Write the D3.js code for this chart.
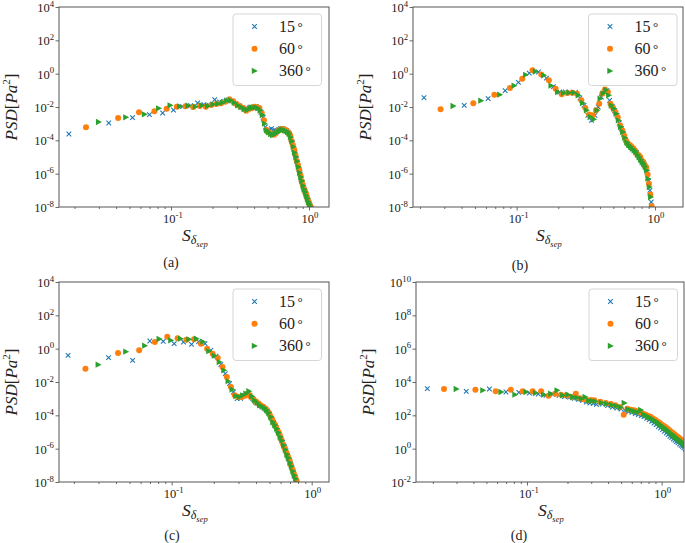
<!DOCTYPE html>
<html><head><meta charset="utf-8">
<script src="https://cdn.jsdelivr.net/npm/d3@7/dist/d3.min.js"></script>
<style>
body{margin:0;background:#fff}
svg{display:block}
text{font-family:"Liberation Serif","Times New Roman","DejaVu Serif",serif;fill:#222}
</style>
</head><body>
<svg id="chart" width="685" height="543" font-family="Liberation Serif, Times New Roman, DejaVu Serif, serif"></svg>
<script>
// ---- series names ----
const seriesNames = ["15", "60", "360"];
const seriesColors = ["#1f77b4", "#ff7f0e", "#2ca02c"];

// ---- Strouhal numbers (S_delta_sep) for panels a and c ----
const freq15 = [0.0182,0.0354,0.0526,0.0698,0.087,0.1042,0.1214,0.1386,0.1558,0.173,0.1902,0.2074,0.2246,0.2418,0.259,0.2762,0.2934,0.3106,0.3278,0.345,0.3622,0.3794,0.3966,0.4138,0.431,0.4482,0.4654,0.4826,0.4998,0.517,0.5342,0.5514,0.5686,0.5858,0.603,0.6202,0.6374,0.6546,0.6718,0.689,0.7062,0.7234,0.7406,0.7578,0.775,0.7922,0.8094,0.8266,0.8438,0.861,0.8782,0.8954,0.9126,0.9298,0.947,0.9642,0.9814,0.9986,1.0158,1.033,1.0502,1.0674,1.0846];
const freq60 = [0.0242,0.0414,0.0586,0.0758,0.093,0.1102,0.1274,0.1446,0.1618,0.179,0.1962,0.2134,0.2306,0.2478,0.265,0.2822,0.2994,0.3166,0.3338,0.351,0.3682,0.3854,0.4026,0.4198,0.437,0.4542,0.4714,0.4886,0.5058,0.523,0.5402,0.5574,0.5746,0.5918,0.609,0.6262,0.6434,0.6606,0.6778,0.695,0.7122,0.7294,0.7466,0.7638,0.781,0.7982,0.8154,0.8326,0.8498,0.867,0.8842,0.9014,0.9186,0.9358,0.953,0.9702,0.9874,1.0046,1.0218,1.039,1.0562,1.0734];
const freq360 = [0.0299,0.0471,0.0643,0.0815,0.0987,0.1159,0.1331,0.1503,0.1675,0.1847,0.2019,0.2191,0.2363,0.2535,0.2707,0.2879,0.3051,0.3223,0.3395,0.3567,0.3739,0.3911,0.4083,0.4255,0.4427,0.4599,0.4771,0.4943,0.5115,0.5287,0.5459,0.5631,0.5803,0.5975,0.6147,0.6319,0.6491,0.6663,0.6835,0.7007,0.7179,0.7351,0.7523,0.7695,0.7867,0.8039,0.8211,0.8383,0.8555,0.8727,0.8899,0.9071,0.9243,0.9415,0.9587,0.9759,0.9931,1.0103,1.0275,1.0447,1.0619,1.0791];
// ---- Strouhal numbers for panel b ----
const freqB15 = [0.0214,0.0418,0.0622,0.0826,0.103,0.1234,0.1438,0.1642,0.1846,0.205,0.2254,0.2458,0.2662,0.2866,0.307,0.3274,0.3478,0.3682,0.3886,0.409,0.4294,0.4498,0.4702,0.4906,0.511,0.5314,0.5518,0.5722,0.5926,0.613,0.6334,0.6538,0.6742,0.6946,0.715,0.7354,0.7558,0.7762,0.7966,0.817,0.8374,0.8578,0.8782,0.8986,0.919,0.9394,0.9598,0.9802];
const freqB60 = [0.0282,0.0486,0.069,0.0894,0.1098,0.1302,0.1506,0.171,0.1914,0.2118,0.2322,0.2526,0.273,0.2934,0.3138,0.3342,0.3546,0.375,0.3954,0.4158,0.4362,0.4566,0.477,0.4974,0.5178,0.5382,0.5586,0.579,0.5994,0.6198,0.6402,0.6606,0.681,0.7014,0.7218,0.7422,0.7626,0.783,0.8034,0.8238,0.8442,0.8646,0.885,0.9054,0.9258,0.9462,0.9666,0.987];
const freqB360 = [0.0348,0.0552,0.0756,0.096,0.1164,0.1368,0.1572,0.1776,0.198,0.2184,0.2388,0.2592,0.2796,0.3,0.3204,0.3408,0.3612,0.3816,0.402,0.4224,0.4428,0.4632,0.4836,0.504,0.5244,0.5448,0.5652,0.5856,0.606,0.6264,0.6468,0.6672,0.6876,0.708,0.7284,0.7488,0.7692,0.7896,0.81,0.8304,0.8508,0.8712,0.8916,0.912,0.9324,0.9528,0.9732];
// ---- Strouhal numbers for panel d ----
const freqD15 = [0.0182,0.0354,0.0526,0.0698,0.087,0.1042,0.1214,0.1386,0.1558,0.173,0.1902,0.2074,0.2246,0.2418,0.259,0.2762,0.2934,0.3106,0.3278,0.3622,0.3966,0.431,0.4654,0.4998,0.5342,0.5686,0.603,0.6374,0.6718,0.7062,0.7406,0.775,0.8094,0.8438,0.8782,0.9126,0.947,0.9814,1.0158,1.0502,1.0846,1.119,1.1534,1.1878,1.2222,1.2566,1.291,1.3254,1.3598,1.3942,1.4286,1.463,1.4974];
const freqD60 = [0.0242,0.0414,0.0586,0.0758,0.093,0.1102,0.1274,0.1446,0.1618,0.179,0.1962,0.2134,0.2306,0.2478,0.265,0.2822,0.2994,0.3166,0.351,0.3854,0.4198,0.4542,0.4886,0.523,0.5574,0.5918,0.6262,0.6606,0.695,0.7294,0.7638,0.7982,0.8326,0.867,0.9014,0.9358,0.9702,1.0046,1.039,1.0734,1.1078,1.1422,1.1766,1.211,1.2454,1.2798,1.3142,1.3486,1.383,1.4174,1.4518,1.4862];
const freqD360 = [0.0299,0.0471,0.0643,0.0815,0.0987,0.1159,0.1331,0.1503,0.1675,0.1847,0.2019,0.2191,0.2363,0.2535,0.2707,0.2879,0.3051,0.3223,0.3567,0.3911,0.4255,0.4599,0.4943,0.5287,0.5631,0.5975,0.6319,0.6663,0.7007,0.7351,0.7695,0.8039,0.8383,0.8727,0.9071,0.9415,0.9759,1.0103,1.0447,1.0791,1.1135,1.1479,1.1823,1.2167,1.2511,1.2855,1.3199,1.3543,1.3887,1.4231,1.4575,1.4919];

// ---- PSD values, stored as log10(PSD [Pa^2]) ----
const psdA15 = [-3.62,-2.96,-2.64,-2.46,-2.36,-2.18,-1.98,-1.92,-1.76,-1.86,-1.9,-1.56,-1.7,-1.66,-1.58,-1.64,-1.78,-1.92,-2.02,
  -2.15,-2.12,-2.0,-2.0,-1.96,-2.08,-2.3,-2.62,-3.2,-3.44,-3.36,-3.3,-3.42,-3.4,-3.44,-3.36,-3.3,-3.28,-3.32,-3.38,
  -3.42,-3.52,-3.62,-3.92,-4.16,-4.52,-4.76,-5.12,-5.36,-5.74,-5.96,-6.32,-6.52,-6.84,-6.98,-7.22,-7.38,-7.58,-7.74,-7.92,
  -8.04,-8.22,-8.3,-8.46];
const psdA60 = [-3.22,-2.66,-2.32,-2.26,-2.1,-1.98,-1.96,-2.0,-1.94,-1.98,-1.88,-1.82,-1.78,-1.68,-1.54,-1.66,-1.84,-1.96,
  -2.06,-2.22,-2.1,-2.08,-1.98,-2.02,-2.06,-2.36,-2.8,-3.36,-3.5,-3.56,-3.64,-3.66,-3.58,-3.46,-3.4,-3.34,-3.32,-3.36,
  -3.4,-3.46,-3.56,-3.7,-4.02,-4.28,-4.56,-4.9,-5.24,-5.5,-5.76,-6.1,-6.44,-6.66,-6.9,-7.05,-7.22,-7.45,-7.64,-7.8,
  -7.95,-8.08,-8.22,-8.35];
const psdA360 = [-2.9,-2.62,-2.44,-2.08,-1.9,-1.96,-1.92,-1.98,-1.9,-1.94,-1.84,-1.8,-1.74,-1.62,-1.6,-1.74,-1.9,-2.0,
  -2.12,-2.18,-2.06,-2.04,-2.02,-2.06,-2.2,-2.48,-3.0,-3.4,-3.52,-3.62,-3.68,-3.64,-3.56,-3.5,-3.42,-3.38,-3.36,-3.4,
  -3.44,-3.5,-3.6,-3.8,-4.06,-4.38,-4.74,-5.0,-5.26,-5.6,-5.94,-6.2,-6.44,-6.72,-6.94,-7.1,-7.32,-7.5,-7.7,-7.85,
  -8.0,-8.12,-8.26,-8.4];

const psdB15 = [-1.44,-1.9,-1.5,-1.02,-0.52,0.03,0.1,-0.27,-0.78,-1.1,-1.1,-1.16,-1.12,-1.46,-1.9,-2.5,
  -2.8,-2.5,-2.0,-1.4,-1.05,-1.02,-1.6,-1.96,-2.22,-2.5,-2.96,-3.3,-3.62,-3.98,-4.2,-4.3,-4.44,-4.5,-4.62,-4.72,
  -4.9,-5.05,-5.22,-5.35,-5.48,-5.65,-5.9,-6.45,-7.0,-7.7,-8.4,-8.9];
const psdB60 = [-2.14,-1.78,-1.26,-0.86,-0.3,0.2,-0.05,-0.4,-0.9,-1.24,-1.16,-1.14,-1.2,-1.6,-2.06,-2.45,
  -2.5,-2.2,-1.8,-1.2,-0.95,-1.1,-1.8,-2.05,-2.3,-2.62,-3.1,-3.4,-3.72,-4.04,-4.22,-4.3,-4.4,-4.52,-4.66,-4.82,
  -4.9,-5.0,-5.22,-5.3,-5.5,-5.62,-6.05,-6.6,-7.25,-7.95,-8.6,-9.0];
const psdB360 = [-1.94,-1.62,-1.26,-0.72,-0.07,0.13,-0.1,-0.72,-1.1,-1.16,-1.14,-1.14,-1.3,-1.76,-2.2,
  -2.6,-2.74,-2.2,-1.5,-1.18,-0.98,-1.3,-1.9,-2.1,-2.4,-2.8,-3.2,-3.5,-3.85,-4.12,-4.28,-4.38,-4.5,-4.6,-4.7,
  -4.86,-5.0,-5.16,-5.3,-5.42,-5.58,-5.8,-6.3,-6.8,-7.4,-8.1,-8.6];

const psdC15 = [-0.4,-0.54,-0.7,0.46,0.44,0.3,0.4,0.26,0.42,0.3,-0.1,-0.45,-0.95,-1.5,-2.1,-2.6,-3.0,-2.98,-2.8,
  -2.7,-2.8,-3.0,-3.2,-3.3,-3.4,-3.5,-3.62,-3.74,-3.92,-4.18,-4.42,-4.64,-4.9,-5.1,-5.38,-5.62,-5.88,-6.12,-6.4,
  -6.64,-6.9,-7.16,-7.4,-7.68,-8.0,-8.2,-8.5];
const psdC60 = [-1.2,-0.26,-0.1,0.4,0.72,0.62,0.54,0.56,0.3,0.0,-0.3,-0.56,-1.1,-1.7,-2.3,-2.8,-2.9,-2.9,
  -2.82,-2.7,-2.9,-3.05,-3.18,-3.3,-3.42,-3.5,-3.62,-3.8,-4.02,-4.25,-4.5,-4.7,-4.96,-5.2,-5.46,-5.75,-5.98,-6.25,
  -6.48,-6.7,-6.98,-7.25,-7.5,-7.7,-7.92,-8.2];
const psdC360 = [-0.96,-0.18,0.18,0.58,0.5,0.6,0.56,0.6,0.42,-0.15,-0.42,-0.8,-1.3,-1.95,-2.45,-2.85,-2.9,-2.8,
  -2.7,-2.55,-2.86,-3.1,-3.24,-3.4,-3.46,-3.55,-3.68,-3.85,-4.1,-4.4,-4.58,-4.8,-5.04,-5.3,-5.52,-5.8,-6.06,-6.35,
  -6.56,-6.85,-7.06,-7.35,-7.6,-7.8,-8.06,-8.3];

const psdD15 = [3.6,3.44,3.58,3.4,3.38,3.34,3.28,3.2,3.26,3.2,3.12,3.1,3.02,2.96,2.9,2.8,2.74,2.72,2.66,
  2.68,2.58,2.5,2.44,2.38,2.3,2.22,2.18,2.1,2.04,1.98,1.92,1.82,1.74,1.64,1.54,1.44,1.32,1.24,1.14,1.04,
  0.94,0.84,0.74,0.66,0.58,0.5,0.42,0.36,0.28,0.2,0.14,0.06,-0.02];
const psdD60 = [3.58,3.54,3.44,3.54,3.44,3.44,3.44,3.18,3.3,3.24,3.2,3.12,3.3,3.02,2.96,2.9,2.92,2.9,2.82,2.74,2.68,2.6,2.5,2.04,2.4,2.34,2.3,2.24,2.18,2.1,2.04,1.96,1.9,1.8,1.72,1.62,1.54,1.44,1.36,1.28,1.2,1.1,1.02,0.94,0.86,0.78,0.72,0.64,0.56,0.5,0.42,0.36];
const psdD360 = [3.58,3.5,3.4,3.24,3.4,3.34,3.24,3.3,3.5,3.2,3.24,3.1,3.06,3.0,3.1,2.88,2.86,2.84,2.76,2.7,2.62,2.56,2.48,2.74,2.36,2.3,2.24,2.18,2.32,2.06,1.98,1.9,1.82,1.72,1.64,1.54,1.44,1.34,1.26,1.16,1.08,0.98,0.9,0.82,0.74,0.66,0.58,0.52,0.44,0.38,0.3,0.22];

// ---- axis ticks ----
const yTickExpABC = [-8,-6,-4,-2,0,2,4];
const yTickExpD = [-2,0,2,4,6,8,10];
const xTickExp = [-1, 0];

const panels = [
  {cap:"(a)", L:59, R:329, T:7, B:207, xDom:[0.01543,1.396], yExp:yTickExpABC,
   f:[freq15,freq60,freq360], p:[psdA15,psdA60,psdA360], ylabX:12, capX:171, capY:267, legX:233},
  {cap:"(b)", L:413, R:683, T:7, B:207, xDom:[0.01782,1.594], yExp:yTickExpABC,
   f:[freqB15,freqB60,freqB360], p:[psdB15,psdB60,psdB360], ylabX:365.5, capX:520, capY:270, legX:588.5},
  {cap:"(c)", L:59, R:329, T:282, B:482, xDom:[0.01567,1.33], yExp:yTickExpABC,
   f:[freq15,freq60,freq360], p:[psdC15,psdC60,psdC360], ylabX:12, capX:172, capY:540, legX:233},
  {cap:"(d)", L:416, R:684, T:282, B:482, xDom:[0.0150,1.466], yExp:yTickExpD,
   f:[freqD15,freqD60,freqD360], p:[psdD15,psdD60,psdD360], ylabX:368.5, capX:519, capY:540, legX:589}
];

const svg = d3.select("#chart");
const defs = svg.append("defs");

function drawMarker(sel, k){
  if(k===0){
    sel.append("path").attr("d","M-2.3,-2.3L2.3,2.3M-2.3,2.3L2.3,-2.3")
      .attr("stroke",seriesColors[0]).attr("stroke-width",1.1).attr("fill","none");
  } else if(k===1){
    sel.append("circle").attr("r",3.0).attr("fill",seriesColors[1]);
  } else {
    sel.append("path").attr("d","M-2.7,-3.2L3.3,0L-2.7,3.2Z").attr("fill",seriesColors[2]);
  }
}

function powLabel(sel, exp, size){
  sel.append("tspan").text("10").attr("font-size",size);
  sel.append("tspan").text(exp<0 ? "-"+(-exp) : String(exp))
    .attr("font-size",size*0.7).attr("dy",-size*0.42);
}

panels.forEach((P,pi)=>{
  const g = svg.append("g");
  const x = d3.scaleLog().domain(P.xDom).range([P.L,P.R]);
  const yLo = P.yExp[0], yHi = P.yExp[P.yExp.length-1];
  const y = d3.scaleLog().domain([Math.pow(10,yLo),Math.pow(10,yHi)]).range([P.B,P.T]);

  // minor x ticks
  const minor = [];
  [-2,-1,0].forEach(e=>{ for(let m=2;m<=9;m++){ const v=m*Math.pow(10,e); if(v>P.xDom[0]&&v<P.xDom[1]) minor.push(v);} });
  const majorX = xTickExp.map(e=>Math.pow(10,e)).filter(v=>v>P.xDom[0]&&v<P.xDom[1]);
  const gxMinor = g.append("g").attr("transform",`translate(0,${P.B})`)
    .call(d3.axisBottom(x).tickValues(minor).tickSize(2).tickFormat(""));
  const gxMajor = g.append("g").attr("transform",`translate(0,${P.B})`)
    .call(d3.axisBottom(x).tickValues(majorX).tickSize(3.5).tickFormat(""));
  const yVals = P.yExp.map(e=>Math.pow(10,e));
  const gy = g.append("g").attr("transform",`translate(${P.L},0)`)
    .call(d3.axisLeft(y).tickValues(yVals).tickSize(3.5).tickFormat(""));
  [gxMinor,gxMajor,gy].forEach(a=>{ a.select(".domain").remove(); a.selectAll("line").attr("stroke","#444").attr("stroke-width",0.8); });

  // tick labels
  majorX.forEach(v=>{
    const e = Math.round(Math.log10(v));
    const t = g.append("text").attr("x",x(v)+(e<0?2:1)).attr("y",P.B+16).attr("text-anchor","middle");
    powLabel(t,e,12.5);
  });
  P.yExp.forEach(e=>{
    const t = g.append("text").attr("x",P.L-5).attr("y",y(Math.pow(10,e))+5).attr("text-anchor","end");
    powLabel(t,e,12.5);
  });

  // data
  const cid = "clip"+pi;
  defs.append("clipPath").attr("id",cid).append("rect")
    .attr("x",P.L).attr("y",P.T).attr("width",P.R-P.L).attr("height",P.B-P.T);
  const dg = g.append("g").attr("clip-path",`url(#${cid})`);
  [0,1,2].forEach(k=>{
    const pts = P.p[k].map((lv,i)=>({f:P.f[k][i], v:Math.pow(10,lv)}));
    dg.append("g").selectAll("g").data(pts).join("g")
      .attr("transform",d=>`translate(${x(d.f)},${y(d.v)})`)
      .each(function(){ drawMarker(d3.select(this),k); });
  });

  // spines
  g.append("rect").attr("x",P.L).attr("y",P.T).attr("width",P.R-P.L).attr("height",P.B-P.T)
    .attr("fill","none").attr("stroke","#555").attr("stroke-width",1);

  // legend
  const lg = g.append("g").attr("transform",`translate(${P.legX},${P.T+7})`);
  lg.append("rect").attr("x",0).attr("y",0).attr("width",88.5).attr("height",71.5).attr("rx",3)
    .attr("fill","#fff").attr("fill-opacity",0.85).attr("stroke","#d6d6d6").attr("stroke-width",1);
  seriesNames.forEach((s,k)=>{
    const ry = 12.5 + k*22.2;
    const mg = lg.append("g").attr("transform",`translate(21.5,${ry})`);
    drawMarker(mg,k);
    const t = lg.append("text").attr("x",46).attr("y",ry+5.5).attr("font-size",16);
    t.append("tspan").text(s);
    t.append("tspan").text("°").attr("dx",2.5).attr("font-size",13).attr("dy",-1);
  });

  // y label
  const yl = g.append("text").attr("transform",`translate(${P.ylabX+5},${(P.T+P.B)/2}) rotate(-90)`)
    .attr("text-anchor","middle").attr("font-size",17).attr("font-style","italic");
  yl.append("tspan").text("PSD");
  yl.append("tspan").text("[").attr("font-style","normal");
  yl.append("tspan").text("Pa");
  yl.append("tspan").text("2").attr("font-style","normal").attr("font-size",11).attr("dy",-7);
  yl.append("tspan").text("]").attr("font-style","normal").attr("dy",7);

  // x label
  const xc = (P.L+P.R)/2;
  const xl = g.append("text").attr("x",xc-12).attr("y",P.B+34).attr("font-style","italic").attr("font-size",17.5);
  xl.append("tspan").text("S");
  xl.append("tspan").text("δ").attr("font-size",12).attr("dy",3);
  xl.append("tspan").text("sep").attr("font-size",8.5).attr("dy",2.5);

  // caption
  g.append("text").attr("x",P.capX).attr("y",P.capY).attr("text-anchor","middle").attr("font-size",14).text(P.cap);
});
</script>
</body></html>
